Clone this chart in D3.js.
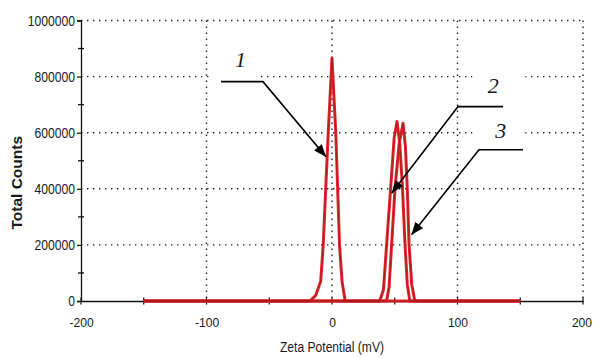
<!DOCTYPE html>
<html><head><meta charset="utf-8">
<script src="https://cdn.jsdelivr.net/npm/d3@7"></script>
<style>html,body{margin:0;padding:0;background:#fff;}svg{display:block;}</style>
</head><body>
<svg id="chart" width="595" height="358"></svg>
<script>
// ---- data ----
const xTicks = [-200, -100, 0, 100, 200];
const yTicks = [0, 200000, 400000, 600000, 800000, 1000000];
const xMinorTicks = [-150, -50, 50, 150];
const yMinorTicks = [100000, 300000, 500000, 700000, 900000];

const curve1X = [-150, -17.5, -13, -9, -7, -5, -3, 0, 3, 4.5, 6, 8, 10.5, 150];
const curve1Y = [0, 0, 20000, 70000, 200000, 400000, 600000, 866000, 600000, 400000, 200000, 70000, 0, 0];

const curve2X = [-150, 38, 41, 43.5, 46.7, 49.5, 51.8, 54, 56.2, 58.2, 60, 62, 150];
const curve2Y = [0, 0, 40000, 200000, 400000, 580000, 640000, 560000, 400000, 200000, 60000, 0, 0];

const curve3X = [-150, 43.5, 45.5, 47.5, 50.2, 53.5, 56.6, 58.5, 60, 61.4, 63.5, 66, 150];
const curve3Y = [0, 0, 50000, 200000, 400000, 560000, 634000, 550000, 400000, 200000, 60000, 0, 0];

const annLabels = ["1", "2", "3"];
const annLabelX = [-73, 128.5, 134.5];
const annLabelY = [836000, 743000, 582000];
const annStartX = [-88.4, 136.3, 152.2];
const annStartY = [782000, 693000, 539000];
const annElbowX = [-55, 100.4, 117.1];
const annElbowY = [782000, 693000, 539000];
const annTipX = [-4.8, 47.6, 63.3];
const annTipY = [514000, 385000, 236000];

const xTitle = "Zeta Potential (mV)";
const yTitle = "Total Counts";

// ---- chart ----
const svg = d3.select("#chart");
const x = d3.scaleLinear().domain([-200, 200]).range([81, 583]);
const y = d3.scaleLinear().domain([0, 1000000]).range([301, 20.5]);
const FONT = "Liberation Sans, Arial, sans-serif";

// gridlines
const grid = svg.append("g").attr("stroke", "#222").attr("stroke-width", 1.4)
  .attr("stroke-dasharray", "1.4,4.6");
grid.selectAll(".vg").data(xTicks.filter(d => d !== -200)).join("line")
  .attr("x1", d => x(d)).attr("x2", d => x(d))
  .attr("y1", y(1000000)).attr("y2", y(0));
grid.selectAll(".hg").data(yTicks.filter(d => d !== 0)).join("line")
  .attr("x1", x(-200)).attr("x2", x(200))
  .attr("y1", d => y(d)).attr("y2", d => y(d));

// white backgrounds behind annotation labels
svg.append("rect").attr("x", x(-95)).attr("y", y(900000)).attr("width", x(-59) - x(-95))
  .attr("height", y(780000) - y(900000)).attr("fill", "#fff");
svg.append("rect").attr("x", x(112)).attr("y", y(820000)).attr("width", x(154) - x(112))
  .attr("height", y(590000) - y(820000)).attr("fill", "#fff");

// axes
const yAxis = d3.axisLeft(y).tickValues(yTicks).tickSize(4).tickPadding(2).tickFormat(d => String(d));
const gy = svg.append("g").attr("transform", `translate(${x(-200)},0)`).call(yAxis);
gy.select(".domain").attr("stroke", "#111").attr("stroke-width", 1.3);
gy.selectAll(".tick line").attr("stroke", "#111").attr("stroke-width", 1.2);
gy.selectAll(".tick text").attr("font-family", FONT)
  .attr("font-size", 14).attr("fill", "#1a1a1a").attr("dy", "0.34em");
gy.selectAll(".tick text").each(function(){ d3.select(this).attr("textLength", this.textContent.length * 6.75).attr("lengthAdjust","spacingAndGlyphs"); });

svg.append("g").selectAll("line").data(yMinorTicks).join("line")
  .attr("x1", x(-200) - 3).attr("x2", x(-200) + 3)
  .attr("y1", d => y(d)).attr("y2", d => y(d)).attr("stroke", "#111").attr("stroke-width", 1.3);

const xAxis = d3.axisBottom(x).tickValues(xTicks).tickSize(0).tickPadding(17).tickFormat(d => String(d));
const gx = svg.append("g").attr("transform", `translate(0,${y(0)})`).call(xAxis);
gx.select(".domain").attr("stroke", "#111").attr("stroke-width", 1.3);
gx.selectAll(".tick text").attr("font-family", FONT)
  .attr("font-size", 12.5).attr("fill", "#1a1a1a");
gx.selectAll(".tick text").each(function(d){
  const t = this.textContent;
  d3.select(this).attr("textLength", t.replace("-","").length * 6.75 + (t.startsWith("-") ? 4 : 0))
    .attr("lengthAdjust","spacingAndGlyphs");
  if (d === 200) d3.select(this).attr("dx", -1.5);
});

svg.append("g").selectAll("line").data(xTicks.concat(xMinorTicks)).join("line")
  .attr("x1", d => x(d)).attr("x2", d => x(d))
  .attr("y1", y(0) - 3.5).attr("y2", y(0) + 3.5).attr("stroke", "#111").attr("stroke-width", 1.2);

// axis titles
svg.append("text").attr("x", x(0)).attr("y", 352).attr("text-anchor", "middle")
  .attr("font-family", FONT).attr("font-size", 14)
  .attr("fill", "#1a1a1a").attr("textLength", 104).attr("lengthAdjust", "spacingAndGlyphs").text(xTitle);
svg.append("text").attr("transform", `translate(22,${y(500000) + 22}) rotate(-90)`)
  .attr("text-anchor", "middle").attr("font-family", FONT)
  .attr("font-weight", "bold").attr("font-size", 15.5).attr("fill", "#1a1a1a").text(yTitle);

// curves
const curves = [
  curve1X.map((v, i) => [v, curve1Y[i]]),
  curve2X.map((v, i) => [v, curve2Y[i]]),
  curve3X.map((v, i) => [v, curve3Y[i]])
];
const line = d3.line().x(d => x(d[0])).y(d => y(d[1]));
const cg = svg.append("g").attr("fill", "none").attr("stroke-linejoin", "round");
cg.selectAll(".outer").data(curves).join("path").attr("d", line)
  .attr("stroke", "#e3252b").attr("stroke-width", 3);
cg.selectAll(".inner").data(curves).join("path").attr("d", line)
  .attr("stroke", "#8c1a1a").attr("stroke-width", 0.8).attr("stroke-opacity", 0.8);

// annotations
svg.append("defs").append("marker").attr("id", "ah")
  .attr("viewBox", "0 0 10 8").attr("refX", 10).attr("refY", 4)
  .attr("markerWidth", 13).attr("markerHeight", 10).attr("markerUnits", "userSpaceOnUse")
  .attr("orient", "auto").append("path").attr("d", "M0,0L10,4L0,8Z").attr("fill", "#000");

const ann = svg.append("g");
annLabels.forEach((lab, i) => {
  ann.append("path")
    .attr("d", `M${x(annStartX[i])},${y(annStartY[i])}L${x(annElbowX[i])},${y(annElbowY[i])}L${x(annTipX[i])},${y(annTipY[i])}`)
    .attr("fill", "none").attr("stroke", "#000").attr("stroke-width", 1.6)
    .attr("marker-end", "url(#ah)");
  ann.append("text").attr("x", x(annLabelX[i])).attr("y", y(annLabelY[i]))
    .attr("text-anchor", "middle").attr("font-family", "Liberation Serif, Times New Roman, serif")
    .attr("font-style", "italic").attr("font-size", 22).attr("fill", "#1a1a1a").text(lab);
});
</script>
</body></html>
